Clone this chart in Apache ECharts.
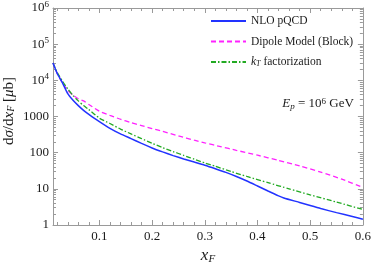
<!DOCTYPE html>
<html><head><meta charset="utf-8">
<script src="https://cdn.jsdelivr.net/npm/echarts@6/dist/echarts.min.js"></script>
<style>html,body{margin:0;padding:0;background:#fff}#c{width:374px;height:268px}</style>
</head><body><div id="c"></div>
<script>
// ---- data ----
const xNLO = [0.012,0.02,0.03,0.04,0.05,0.06,0.07,0.08,0.09,0.1,0.12,0.14,0.16,0.18,0.2,0.22,0.24,0.26,0.28,0.3,0.32,0.34,0.36,0.38,0.4,0.42,0.44,0.45,0.48,0.5,0.52,0.55,0.58,0.6];
const yNLO = [30000,15500,8500,4300,2800,2000,1480,1150,900,720,470,330,245,180,135,105,83,67,55,45,36,28.5,22,16.5,12,8.7,6.4,5.6,4.2,3.45,2.85,2.2,1.72,1.45];
const xDip = [0.012,0.02,0.03,0.04,0.05,0.06,0.07,0.08,0.1,0.12,0.14,0.16,0.18,0.2,0.22,0.25,0.28,0.3,0.33,0.36,0.4,0.44,0.48,0.52,0.56,0.6];
const yDip = [30000,15500,8500,5300,3900,3100,2700,2150,1400,1070,840,680,560,465,390,290,222,187,147,116,85,61,43,29,18.5,11];
const xKT = [0.012,0.02,0.03,0.04,0.05,0.06,0.07,0.08,0.1,0.12,0.14,0.16,0.18,0.2,0.22,0.24,0.26,0.28,0.3,0.32,0.35,0.38,0.42,0.46,0.5,0.55,0.6];
const yKT = [30000,16500,9500,5800,3800,2700,2000,1550,900,640,450,330,245,182,138,107,84,66,52,42,30,22,14.8,10,6.8,4.3,2.7];
const seriesNames = ['NLO pQCD','Dipole Model (Block)','kT factorization'];
const xMajor = [0.1,0.2,0.3,0.4,0.5,0.6];
const xMinor = [0.02,0.04,0.06,0.08,0.12,0.14,0.16,0.18,0.22,0.24,0.26,0.28,0.32,0.34,0.36,0.38,0.42,0.44,0.46,0.48,0.52,0.54,0.56,0.58];
const yMajor = [1,10,100,1000,10000,100000,1000000];
const yMinorMult = [2,3,4,5,6,7,8,9];

const XMIN = 0.012, XMAX = 0.6;
const yMinor = [];
for (let d = 0; d < 6; d++) yMinorMult.forEach(m => yMinor.push(m * Math.pow(10, d)));
const zip = (xs, ys) => xs.map((x, i) => [x, ys[i]]);

const F = 'Liberation Serif';
const AC = '#9a9a9a';
const TXT = '#1a1a1a';

function xAx(pos, custom, len, labels, line) {
  return {
    type: 'value', min: XMIN, max: XMAX, position: pos,
    axisLine: { show: line, onZero: false, lineStyle: { color: AC, width: 1 } },
    axisTick: { show: true, inside: true, length: len, customValues: custom, lineStyle: { color: AC } },
    axisLabel: labels ? { show: true, customValues: custom, formatter: v => v.toFixed(1), fontFamily: F, fontSize: 13, color: TXT, margin: 5 } : { show: false },
    splitLine: { show: false }
  };
}
function yAx(pos, custom, len, labels, line) {
  return {
    type: 'log', logBase: 10, min: 1, max: 1e6, position: pos,
    axisLine: { show: line, onZero: false, lineStyle: { color: AC, width: 1 } },
    axisTick: { show: true, inside: true, length: len, customValues: custom, lineStyle: { color: AC } },
    axisLabel: labels ? {
      show: true, customValues: custom, margin: 4, fontFamily: F, fontSize: 13, color: TXT,
      formatter: v => { const e = Math.round(Math.log10(v)); return e >= 4 ? '{b|10}{sup|' + e + '}' : '{b|' + Math.round(v) + '}'; },
      rich: { b: { fontFamily: F, fontSize: 13, color: TXT, lineHeight: 16 }, sup: { fontFamily: F, fontSize: 9, color: TXT, verticalAlign: 'top', lineHeight: 10 } }
    } : { show: false },
    splitLine: { show: false }
  };
}

const chart = echarts.init(document.getElementById('c'), null, { renderer: 'canvas' });
chart.setOption({
  animation: false,
  backgroundColor: '#fff',
  grid: { left: 53, right: 9, top: 7, bottom: 43, containLabel: false },
  xAxis: [
    xAx('bottom', xMajor, 5, true, true),
    xAx('bottom', xMinor, 3, false, false),
    xAx('top', xMajor, 5, false, true),
    xAx('top', xMinor, 3, false, false)
  ],
  yAxis: [
    yAx('left', yMajor, 5, true, true),
    yAx('left', yMinor, 3, false, false),
    yAx('right', yMajor, 5, false, true),
    yAx('right', yMinor, 3, false, false)
  ],
  legend: {
    orient: 'vertical', left: 205, top: 10, itemWidth: 35, itemHeight: 12, itemGap: 8.5,
    data: seriesNames,
    itemStyle: { opacity: 0 },
    formatter: n => n === 'kT factorization' ? '{i|k}{s|T} factorization' : n,
    textStyle: {
      fontFamily: F, fontSize: 11.5, color: TXT,
      rich: { i: { fontFamily: F, fontStyle: 'italic', fontSize: 11.5, color: TXT }, s: { fontFamily: F, fontStyle: 'italic', fontSize: 8, color: TXT, verticalAlign: 'bottom', padding: [4, 0, 0, 0] } }
    }
  },
  series: [
    { name: seriesNames[0], type: 'line', data: zip(xNLO, yNLO), showSymbol: false, symbol: 'none', smooth: 0.2,
      lineStyle: { color: '#2233ff', width: 1.5 }, itemStyle: { color: '#2233ff' }, z: 5 },
    { name: seriesNames[1], type: 'line', data: zip(xDip, yDip), showSymbol: false, symbol: 'none', smooth: 0.2,
      lineStyle: { color: '#ff22ff', width: 1.3, type: [5, 3] }, itemStyle: { color: '#ff22ff' }, z: 4 },
    { name: seriesNames[2], type: 'line', data: zip(xKT, yKT), showSymbol: false, symbol: 'none', smooth: 0.2,
      lineStyle: { color: '#22aa22', width: 1.3, type: [5, 2, 1.5, 2] }, itemStyle: { color: '#22aa22' }, z: 4 }
  ],
  graphic: [
    { type: 'text', x: 9, y: 111, rotation: Math.PI / 2,
      style: { text: 'd{i|σ}/d{i|x}{s|F} [{i|μ}b]', align: 'center', verticalAlign: 'middle', fontFamily: F, fontSize: 15, fill: TXT,
        rich: { i: { fontFamily: F, fontStyle: 'italic', fontSize: 15, fill: TXT }, s: { fontFamily: F, fontStyle: 'italic', fontSize: 10, fill: TXT, verticalAlign: 'bottom', padding: [5, 0, 0, 0] } } } },
    { type: 'text', x: 208, y: 256,
      style: { text: '{i|x}{s|F}', align: 'center', verticalAlign: 'middle', fontFamily: F, fontSize: 17, fill: TXT,
        rich: { i: { fontFamily: F, fontStyle: 'italic', fontSize: 17, fill: TXT }, s: { fontFamily: F, fontStyle: 'italic', fontSize: 11, fill: TXT, verticalAlign: 'bottom', padding: [6, 0, 0, 0] } } } },
    { type: 'text', x: 318, y: 104,
      style: { text: '{i|E}{s|p} = 10{sup|6} GeV', align: 'center', verticalAlign: 'middle', fontFamily: F, fontSize: 13, fill: TXT,
        rich: { i: { fontFamily: F, fontStyle: 'italic', fontSize: 13, fill: TXT }, s: { fontFamily: F, fontStyle: 'italic', fontSize: 9, fill: TXT, verticalAlign: 'bottom', padding: [5, 0, 0, 0] }, sup: { fontFamily: F, fontSize: 9, fill: TXT, verticalAlign: 'top', padding: [0, 0, 5, 0] } } } }
  ]
});
</script>
</body></html>
